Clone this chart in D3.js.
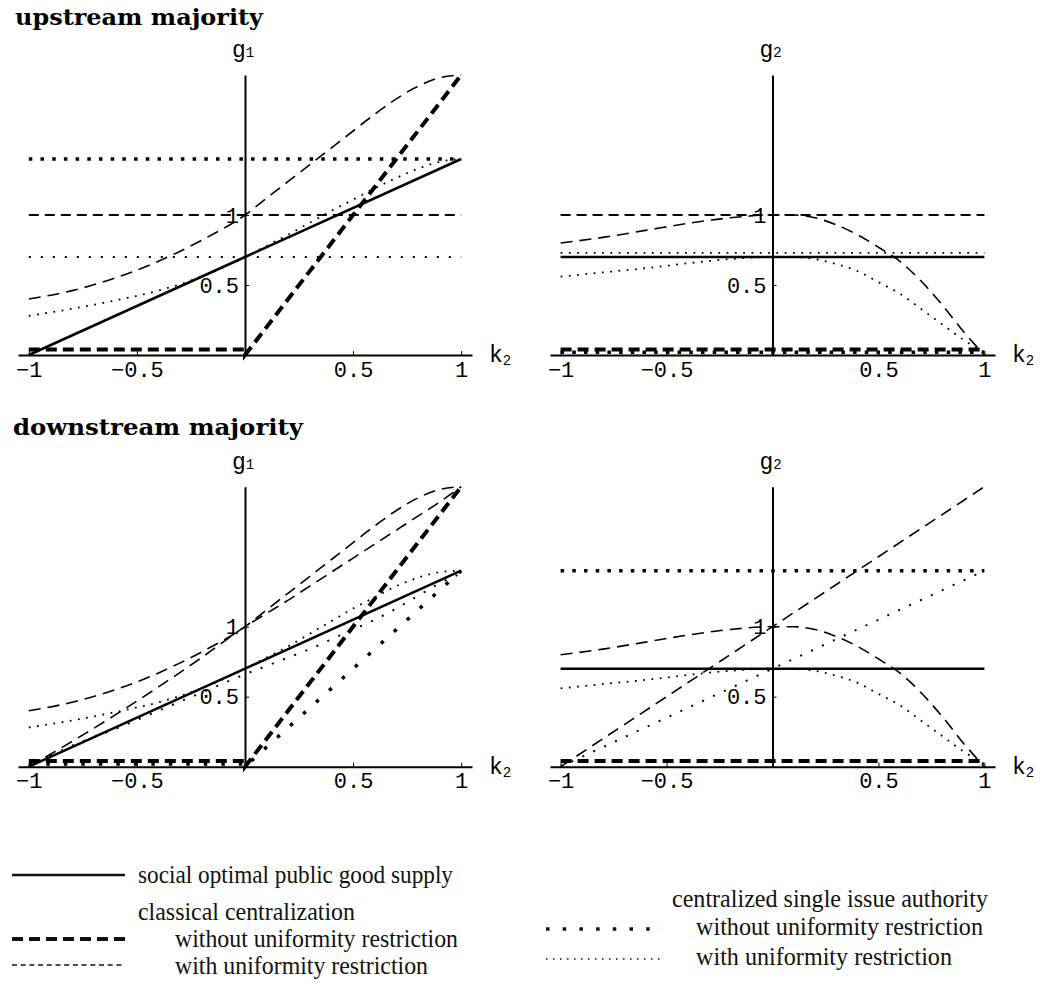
<!DOCTYPE html>
<html>
<head>
<meta charset="utf-8">
<script src="https://cdn.jsdelivr.net/npm/d3@7"></script>
<style>
  body { margin: 0; background: #fff; }
</style>
</head>
<body>
<div id="chart"></div>
<script>
// k2 sample points
const kCurve = [-1, -0.8, -0.6, -0.4, -0.2, 0, 0.1, 0.2, 0.3, 0.4, 0.5, 0.6, 0.7, 0.8, 0.9, 1]
const kLine = [-1, 0, 1]
const kKink = [-1, 0, 0, 1]
const kFlat = [-1, 1]

// upstream majority, g1
const upG1Social = [0, 0.7, 1.4]
const upG1ClassFree = [0.04, 0.04, 0, 2]
const upG1ClassUnifCurve = [0.40, 0.46, 0.55, 0.67, 0.82, 1.0, 1.12, 1.24, 1.36, 1.48, 1.60, 1.72, 1.83, 1.92, 1.98, 2.0]
const upG1ClassUnifFlat = [1, 1]
const upG1SingleFree = [1.4, 1.4]
const upG1SingleUnifCurve = [0.28, 0.33, 0.39, 0.46, 0.56, 0.70, 0.78, 0.86, 0.945, 1.03, 1.11, 1.19, 1.265, 1.33, 1.38, 1.40]
const upG1SingleUnifFlat = [0.7, 0.7]

// upstream majority, g2
const upG2Social = [0.7, 0.7]
const upG2ClassFree = [0.04, 0.04]
const upG2ClassUnifCurve = [0.80, 0.84, 0.89, 0.94, 0.98, 1.0, 1.0, 0.98, 0.93, 0.86, 0.77, 0.67, 0.53, 0.36, 0.17, 0.0]
const upG2ClassUnifFlat = [1, 1]
const upG2SingleFree = [0.02, 0.02]
const upG2SingleUnifCurve = [0.56, 0.59, 0.62, 0.655, 0.685, 0.70, 0.70, 0.685, 0.65, 0.60, 0.52, 0.44, 0.33, 0.22, 0.11, 0.02]
const upG2SingleUnifFlat = [0.73, 0.73]

// downstream majority, g1
const dnG1Social = [0, 0.7, 1.4]
const dnG1ClassFree = [0.04, 0.04, 0, 2]
const dnG1ClassUnifCurve = [0.40, 0.46, 0.55, 0.67, 0.82, 1.0, 1.12, 1.24, 1.36, 1.48, 1.60, 1.72, 1.83, 1.92, 1.98, 2.0]
const dnG1ClassUnifLow = [0.0, 0.18, 0.37, 0.57, 0.78, 1.0, 1.095, 1.19, 1.29, 1.39, 1.49, 1.59, 1.69, 1.79, 1.89, 2.0]
const dnG1SingleFree = [0.02, 0.02, 0, 1.4]
const dnG1SingleUnifCurve = [0.28, 0.33, 0.39, 0.46, 0.56, 0.70, 0.78, 0.86, 0.95, 1.04, 1.13, 1.21, 1.29, 1.35, 1.39, 1.40]
const dnG1SingleUnifLow = [0.0, 0.15, 0.27, 0.40, 0.53, 0.66, 0.72, 0.78, 0.84, 0.91, 0.98, 1.05, 1.13, 1.22, 1.31, 1.38]

// downstream majority, g2
const dnG2Social = [0.7, 0.7]
const dnG2ClassFree = [0.04, 0.04]
const dnG2ClassUnifCurve = [0.80, 0.84, 0.89, 0.94, 0.98, 1.0, 1.0, 0.98, 0.93, 0.86, 0.77, 0.67, 0.53, 0.36, 0.17, 0.0]
const dnG2ClassUnifLine = [0, 1, 2]
const dnG2SingleFree = [1.4, 1.4]
const dnG2SingleUnifCurve = [0.56, 0.59, 0.62, 0.655, 0.685, 0.70, 0.70, 0.685, 0.65, 0.60, 0.52, 0.44, 0.33, 0.22, 0.11, 0.02]
const dnG2SingleUnifLine = [0, 0.7, 1.4]

const xTicks = [-1, -0.5, 0.5, 1]
const yTicks = [0.5, 1]

// line styles
const styles = {
    solid:     { w: 2.5, dash: null },
    thickDash: { w: 4,   dash: '11,6' },
    dash:      { w: 2,   dash: '10,6' },
    longDash:  { w: 1.6, dash: '12,7' },
    thickDot:  { w: 3.5, dash: '3.5,8.2' },
    thickDotW: { w: 3.5, dash: '3.5,14' },
    dot:       { w: 1.8, dash: '1.8,6.5' },
    dotWide:   { w: 2,   dash: '2,10' }
}

const panels = [
    { x0: 18, x1: 472, y0: 355, y2: 75, lab: '1', series: [
        [kFlat, upG1SingleFree, 'thickDot'],
        [kFlat, upG1ClassUnifFlat, 'dash'],
        [kFlat, upG1SingleUnifFlat, 'dotWide'],
        [kCurve, upG1ClassUnifCurve, 'longDash', true],
        [kCurve, upG1SingleUnifCurve, 'dot', true],
        [kLine, upG1Social, 'solid'],
        [kKink, upG1ClassFree, 'thickDash']
    ]},
    { x0: 550, x1: 995, y0: 355, y2: 75, lab: '2', series: [
        [kFlat, upG2ClassUnifFlat, 'dash'],
        [kFlat, upG2SingleUnifFlat, 'dot'],
        [kCurve, upG2ClassUnifCurve, 'longDash', true],
        [kCurve, upG2SingleUnifCurve, 'dot', true],
        [kFlat, upG2Social, 'solid'],
        [kFlat, upG2SingleFree, 'thickDot'],
        [kFlat, upG2ClassFree, 'thickDash']
    ]},
    { x0: 18, x1: 472, y0: 766.7, y2: 486.7, lab: '1', series: [
        [kCurve, dnG1ClassUnifCurve, 'longDash', true],
        [kCurve, dnG1ClassUnifLow, 'longDash', true],
        [kCurve, dnG1SingleUnifCurve, 'dot', true],
        [kCurve, dnG1SingleUnifLow, 'dotWide', true],
        [kLine, dnG1Social, 'solid'],
        [kKink, dnG1SingleFree, 'thickDotW'],
        [kKink, dnG1ClassFree, 'thickDash']
    ]},
    { x0: 550, x1: 995, y0: 766.7, y2: 486.7, lab: '2', series: [
        [kFlat, dnG2SingleFree, 'thickDot'],
        [kLine, dnG2ClassUnifLine, 'longDash'],
        [kLine, dnG2SingleUnifLine, 'dotWide'],
        [kCurve, dnG2ClassUnifCurve, 'longDash', true],
        [kCurve, dnG2SingleUnifCurve, 'dot', true],
        [kFlat, dnG2Social, 'solid'],
        [kFlat, dnG2ClassFree, 'thickDash']
    ]}
]

const svg = d3.select('#chart').append('svg')
    .attr('width', 1054).attr('height', 986)
    .style('font-family', '"Liberation Mono", monospace')

// titles
svg.append('text').attr('x', 15).attr('y', 25)
    .attr('textLength', 248).attr('lengthAdjust', 'spacingAndGlyphs')
    .style('font-family', '"DejaVu Serif", serif').style('font-weight', 'bold').style('font-size', '23px')
    .text('upstream majority')
svg.append('text').attr('x', 13).attr('y', 435)
    .attr('textLength', 290).attr('lengthAdjust', 'spacingAndGlyphs')
    .style('font-family', '"DejaVu Serif", serif').style('font-weight', 'bold').style('font-size', '23px')
    .text('downstream majority')

const fmt = d => (d < 0 ? '\u2212' : '') + String(Math.abs(d))

panels.forEach(p => {
    const x = d3.scaleLinear().domain([-1.05, 1.05]).range([p.x0, p.x1])
    const y = d3.scaleLinear().domain([0, 2]).range([p.y0, p.y2])
    const g = svg.append('g')

    p.series.forEach(([ks, gs, st, smooth]) => {
        const pts = ks.map((k, i) => [k, gs[i]])
        const line = d3.line()
            .x(d => x(d[0])).y(d => y(d[1]))
            .curve(smooth ? d3.curveMonotoneX : d3.curveLinear)
        g.append('path')
            .attr('d', line(pts))
            .attr('fill', 'none')
            .attr('stroke', '#000')
            .attr('stroke-width', styles[st].w)
            .attr('stroke-dasharray', styles[st].dash)
    })

    // x axis through origin
    const ax = g.append('g')
        .attr('transform', `translate(0,${y(0)})`)
        .call(d3.axisBottom(x).tickValues(xTicks).tickSize(-4).tickSizeOuter(0).tickPadding(6).tickFormat(fmt))
    // y axis through origin
    const ay = g.append('g')
        .attr('transform', `translate(${x(0)},0)`)
        .call(d3.axisLeft(y).tickValues(yTicks).tickSize(-4).tickSizeOuter(0).tickPadding(6).tickFormat(fmt))

    ;[ax, ay].forEach(a => {
        a.select('.domain').attr('stroke', '#000').attr('stroke-width', 2)
        a.selectAll('.tick line').attr('stroke', '#000').attr('stroke-width', 1)
        a.selectAll('.tick text')
            .attr('fill', '#000')
            .style('font-family', '"Liberation Mono", monospace')
            .style('font-size', '22px')
    })

    // axis labels
    const gl = g.append('text')
        .attr('x', x(0) - 13).attr('y', y(2) - 18)
        .style('font-size', '23px')
    gl.append('tspan').text('g')
    gl.append('tspan').style('font-size', '14px').text(p.lab)

    const kl = g.append('text')
        .attr('x', x(1.05) + 17).attr('y', y(0) + 7)
        .style('font-size', '23px')
    kl.append('tspan').text('k')
    kl.append('tspan').attr('dy', 3).style('font-size', '14px').text('2')
})

// legend
const legendSamples = [
    ['solid', 12, 125, 875],
    ['thickDash', 12, 125, 939],
    ['legendDash', 12, 125, 965],
    ['legendThickDot', 546, 663, 929],
    ['legendDot', 546, 663, 959]
]
const legendStyles = Object.assign({}, styles, {
    legendDash: { w: 1.6, dash: '5,3.7' },
    legendThickDot: { w: 3.5, dash: '3.5,13.2' },
    legendDot: { w: 1.5, dash: '1.5,5.5' }
})
legendSamples.forEach(([st, a, b, yy]) => {
    svg.append('line')
        .attr('x1', a).attr('x2', b).attr('y1', yy).attr('y2', yy)
        .attr('stroke', '#111')
        .attr('stroke-width', legendStyles[st].w)
        .attr('stroke-dasharray', legendStyles[st].dash)
})

const legendTexts = [
    ['social optimal public good supply', 138, 883, 315],
    ['classical centralization', 138, 920, 217],
    ['without uniformity restriction', 175, 947, 283],
    ['with uniformity restriction', 175, 974, 253],
    ['centralized single issue authority', 672, 907, 316],
    ['without uniformity restriction', 696, 935, 287],
    ['with uniformity restriction', 696, 965, 256]
]
legendTexts.forEach(([t, xx, yy, len]) => {
    svg.append('text')
        .attr('x', xx).attr('y', yy)
        .attr('textLength', len).attr('lengthAdjust', 'spacingAndGlyphs')
        .style('font-family', '"Liberation Serif", serif')
        .style('font-size', '26px')
        .attr('fill', '#111')
        .text(t)
})
</script>
</body>
</html>
